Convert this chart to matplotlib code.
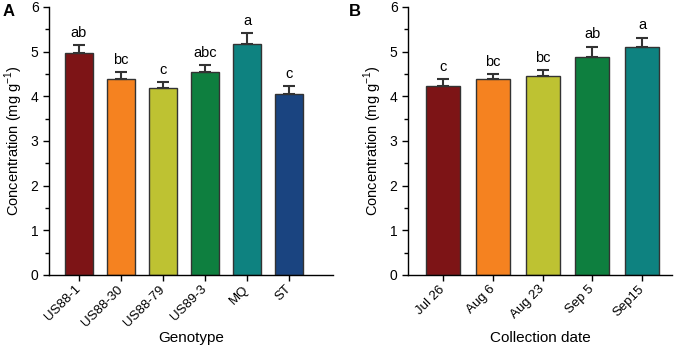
import matplotlib
matplotlib.use("Agg")
import matplotlib.pyplot as plt
from matplotlib.ticker import MultipleLocator

plt.rcParams["font.family"] = ["Liberation Sans", "DejaVu Sans"]

# Panel A: genotypes
genotypes = ["US88-1", "US88-30", "US88-79", "US89-3", "MQ", "ST"]
geno_mean = [4.97, 4.38, 4.19, 4.55, 5.17, 4.06]
geno_err = [0.17, 0.16, 0.13, 0.15, 0.24, 0.17]
geno_letters = ["ab", "bc", "c", "abc", "a", "c"]
geno_colors = ["#7D1416", "#F58220", "#BEC232", "#0E7F3F", "#0E8280", "#1A4480"]

# Panel B: collection dates
dates = ["Jul 26", "Aug 6", "Aug 23", "Sep 5", "Sep15"]
date_mean = [4.24, 4.38, 4.46, 4.88, 5.11]
date_err = [0.14, 0.12, 0.12, 0.23, 0.20]
date_letters = ["c", "bc", "bc", "ab", "a"]
date_colors = ["#7D1416", "#F58220", "#BEC232", "#0E7F3F", "#0E8280"]


def draw(ax, labels, mean, err, letters, colors, xlabel, xlim):
    x = range(len(labels))
    ax.bar(x, mean, width=0.68, color=colors, edgecolor="#333333", linewidth=1.0,
           yerr=[[0] * len(err), err], capsize=4,
           error_kw=dict(ecolor="#333333", elinewidth=1.5, capthick=1.5))
    for i, (m, e, t) in enumerate(zip(mean, err, letters)):
        ax.text(i, m + e + 0.12, t, ha="center", va="bottom", fontsize=10.5)
    ax.set_xlim(*xlim)
    ax.set_ylim(0, 6)
    ax.set_xticks(list(x))
    ax.set_xticklabels(labels, rotation=45, ha="right", va="center",
                       rotation_mode="anchor", fontsize=9.5)
    ax.yaxis.set_major_locator(MultipleLocator(1))
    ax.yaxis.set_minor_locator(MultipleLocator(0.5))
    ax.tick_params(axis="y", labelsize=10)
    ax.tick_params(axis="x", pad=5)
    ax.tick_params(axis="both", which="both", direction="out", width=1)
    ax.tick_params(which="major", length=4)
    ax.tick_params(which="minor", length=3)
    for s in ("top", "right"):
        ax.spines[s].set_visible(False)
    for s in ("left", "bottom"):
        ax.spines[s].set_linewidth(1)
    ax.set_ylabel("Concentration (mg g$^{\\mathregular{-1}}$)", fontsize=10.5)
    ax.set_xlabel(xlabel, fontsize=11, va="center")
    ax.xaxis.set_label_coords(0.5, -0.235)


fig = plt.figure(figsize=(6.8, 3.48), dpi=100)
axA = fig.add_axes([0.072, 0.21, 0.418, 0.77])
axB = fig.add_axes([0.600, 0.21, 0.388, 0.77])

draw(axA, genotypes, geno_mean, geno_err, geno_letters, geno_colors,
     "Genotype", (-0.71, 6.05))
draw(axB, dates, date_mean, date_err, date_letters, date_colors,
     "Collection date", (-0.71, 4.6))

fig.text(0.004, 0.955, "A", fontsize=12, fontweight="bold")
fig.text(0.513, 0.955, "B", fontsize=12, fontweight="bold")

fig.savefig("out.png", dpi=100)
